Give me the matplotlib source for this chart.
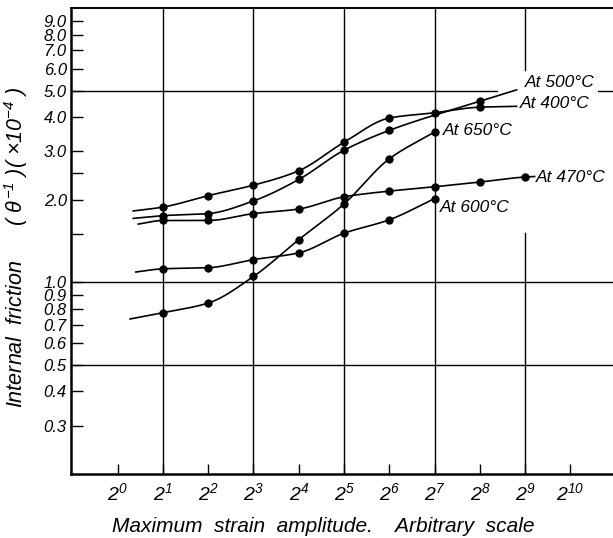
import numpy as np
import matplotlib.pyplot as plt
from matplotlib.ticker import FixedLocator, FixedFormatter, NullLocator

plt.rcParams['font.family'] = ['Liberation Sans', 'DejaVu Sans']
plt.rcParams['font.style'] = 'italic'
plt.rcParams['mathtext.fontset'] = 'custom'
plt.rcParams['mathtext.rm'] = 'Liberation Sans:italic'
plt.rcParams['mathtext.it'] = 'Liberation Sans:italic'

# measured points: strain amplitude (arbitrary) and internal friction (x1e-4)
amp_400 = [2, 4, 8, 16, 32, 64, 128, 256]
q_400 = [1.88, 2.07, 2.26, 2.55, 3.24, 3.97, 4.15, 4.35]
amp_500 = [2, 4, 8, 16, 32, 64, 256]
q_500 = [1.75, 1.78, 1.98, 2.37, 3.03, 3.58, 4.57]
amp_470 = [2, 4, 8, 16, 32, 64, 128, 256, 512]
q_470 = [1.68, 1.68, 1.78, 1.85, 2.05, 2.15, 2.23, 2.32, 2.42]
amp_600 = [2, 4, 8, 16, 32, 64, 128]
q_600 = [1.12, 1.13, 1.21, 1.28, 1.51, 1.69, 2.02]
amp_650 = [2, 4, 8, 16, 32, 64, 128]
q_650 = [0.775, 0.84, 1.05, 1.43, 1.93, 2.82, 3.53]

# where the drawn curves begin and end beyond the measured points
start_400, end_400 = (1.27, 1.82), (449, 4.38)
start_500, end_500 = (1.27, 1.71), (449, 5.03)
start_470, end_470 = (1.37, 1.63), (592, 2.43)
start_600, end_600 = (1.32, 1.09), None
start_650, end_650 = (1.21, 0.735), None

labels = ['At 500°C', 'At 400°C', 'At 650°C', 'At 470°C', 'At 600°C']
label_pos = [(509, 5.35), (471, 4.48), (145, 3.58), (600, 2.42), (138, 1.88)]

ytick_vals = [0.3, 0.4, 0.5, 0.6, 0.7, 0.8, 0.9, 1.0, 1.5, 2.0, 2.5, 3.0, 4.0, 5.0, 6.0, 7.0, 8.0, 9.0]
ytick_text = ['0.3', '0.4', '0.5', '0.6', '0.7', '0.8', '0.9', '1.0', '', '2.0', '', '3.0', '4.0', '5.0',
              '6.0', '7.0', '8.0', '9.0']
xtick_pow = list(range(0, 11))


def smooth(xs, ys, n=300):
    # monotone cubic through the points, in log-log space
    x = np.log2(np.asarray(xs, float))
    y = np.log10(np.asarray(ys, float))
    h = np.diff(x)
    d = np.diff(y) / h
    m = np.zeros_like(x)
    m[0], m[-1] = d[0], d[-1]
    for k in range(1, len(x) - 1):
        if d[k - 1] * d[k] <= 0:
            m[k] = 0.0
        else:
            w1 = 2 * h[k] + h[k - 1]
            w2 = h[k] + 2 * h[k - 1]
            m[k] = (w1 + w2) / (w1 / d[k - 1] + w2 / d[k])
    xx = np.linspace(x[0], x[-1], n)
    idx = np.clip(np.searchsorted(x, xx) - 1, 0, len(x) - 2)
    t = (xx - x[idx]) / h[idx]
    h00 = 2 * t ** 3 - 3 * t ** 2 + 1
    h10 = t ** 3 - 2 * t ** 2 + t
    h01 = -2 * t ** 3 + 3 * t ** 2
    h11 = t ** 3 - t ** 2
    yy = h00 * y[idx] + h10 * h[idx] * m[idx] + h01 * y[idx + 1] + h11 * h[idx] * m[idx + 1]
    return 2 ** xx, 10 ** yy


fig = plt.figure(figsize=(6.13, 5.38), dpi=100)
ax = fig.add_axes([71 / 613, 1 - 474 / 538, 542 / 613, 466 / 538])
ax.set_xscale('log', base=2)
ax.set_yscale('log')
ax.set_xlim(2 ** -1.03, 2 ** 10.94)
ax.set_ylim(0.2, 10.0)

series = [
    (amp_400, q_400, start_400, end_400),
    (amp_500, q_500, start_500, end_500),
    (amp_470, q_470, start_470, end_470),
    (amp_600, q_600, start_600, end_600),
    (amp_650, q_650, start_650, end_650),
]
for amp, q, st, en in series:
    lx = [st[0]] + amp
    ly = [st[1]] + q
    if en is not None:
        lx.append(en[0])
        ly.append(en[1])
    sx, sy = smooth(lx, ly)
    ax.plot(sx, sy, color='black', lw=1.2, zorder=3)
    ax.plot(amp, q, 'o', color='black', ms=5, zorder=4)

for txt, (x, y) in zip(labels, label_pos):
    ax.text(x, y, txt, fontsize=12.5, ha='left', va='center', zorder=5)

# grid lines as drawn on the original sheet
for e in [1, 3, 5, 7]:
    ax.axvline(2 ** e, color='black', lw=1.0, zorder=1)
ax.axvline(2 ** 9, ymin=0, ymax=0.517, color='black', lw=1.0, zorder=1)
ax.axvline(2 ** 9, ymin=0.867, ymax=1, color='black', lw=1.0, zorder=1)
ax.axhline(0.5, color='black', lw=1.0, zorder=1)
ax.axhline(1.0, color='black', lw=1.0, zorder=1)
ax.axhline(5.0, xmin=0, xmax=0.786, color='black', lw=1.0, zorder=1)
ax.axhline(5.0, xmin=0.972, xmax=1, color='black', lw=1.0, zorder=1)

ax.yaxis.set_major_locator(FixedLocator(ytick_vals))
ax.yaxis.set_major_formatter(FixedFormatter(ytick_text))
ax.yaxis.set_minor_locator(NullLocator())
ax.xaxis.set_major_locator(FixedLocator([2 ** p for p in xtick_pow]))
ax.xaxis.set_major_formatter(FixedFormatter(['$2^{%d}$' % p for p in xtick_pow]))
ax.xaxis.set_minor_locator(NullLocator())
ax.tick_params(axis='y', direction='in', length=8.5, width=1.0, pad=3, labelsize=12)
ax.tick_params(axis='x', direction='in', length=7.5, width=1.0, pad=6, labelsize=14)

ax.spines['right'].set_visible(False)
ax.spines['left'].set_linewidth(1.8)
ax.spines['bottom'].set_linewidth(1.8)
ax.spines['top'].set_linewidth(1.4)

ax.set_xlabel('Maximum  strain  amplitude.    Arbitrary  scale', fontsize=15)
ax.xaxis.set_label_coords(0.466, -0.093)
ax.set_ylabel('Internal  friction      ( $\\theta^{-1}$ )( $\\times10^{-4}$ )', fontsize=15.5)
ax.yaxis.set_label_coords(-0.076, 0.486)

fig.savefig('out.png', dpi=100)
